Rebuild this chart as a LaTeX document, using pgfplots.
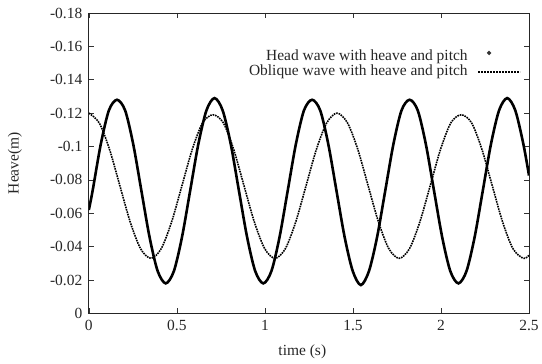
\documentclass[border=0pt]{standalone}
\usepackage{pgfplots}
\pgfplotsset{compat=1.18}
\usepackage{fontspec}
\setmainfont{Liberation Serif}
\begin{document}
\begin{tikzpicture}
\begin{axis}[
  scale only axis, width=441pt, height=301pt,
  xmin=0, xmax=2.5, ymin=-0.18, ymax=0, y dir=reverse,
  xtick={0,0.5,1,1.5,2,2.5},
  xticklabels={0,0.5,1,1.5,2,2.5},
  ytick={-0.18,-0.16,-0.14,-0.12,-0.1,-0.08,-0.06,-0.04,-0.02,0},
  yticklabels={{-0.18},{-0.16},{-0.14},{-0.12},{-0.1},{-0.08},{-0.06},{-0.04},{-0.02},{0}},
  tick align=inside, major tick length=5pt,
  tick style={black!80, line width=0.6pt},
  axis line style={black!85, line width=0.9pt},
  every tick label/.append style={font=\fontsize{15.5}{18}\selectfont, text=black!85},
  xticklabel style={yshift=-3pt},
  yticklabel style={xshift=-3pt},
  xlabel={time (s)}, ylabel={Heave(m)},
  label style={font=\fontsize{15.5}{18}\selectfont, text=black!85},
  xlabel style={at={(axis description cs:0.485,-0.128)}, anchor=center},
  ylabel style={at={(axis description cs:-0.168,0.5)}, anchor=center, rotate=0},
  legend plot pos=right,
  legend cell align=right,
  legend style={at={(axis description cs:0.982,0.876)}, anchor=north east, draw=none, fill=none,
    font=\fontsize{15.5}{17}\selectfont, text=black!85, row sep=2pt, column sep=8pt, inner sep=0pt,
    nodes={inner ysep=0pt, inner xsep=2pt, text height=10pt, text depth=3pt}},
]
\addplot[black, line width=2.6pt, smooth,
  legend image code/.code={\fill[black!80] (0.38cm,0.14cm) circle (0.5pt);}] coordinates {
(0,-0.062) (0.0215,-0.0735) (0.0677,-0.1013) (0.1138,-0.1216) (0.16,-0.128)
(0.2062,-0.1216) (0.2523,-0.1013) (0.2985,-0.0735) (0.3447,-0.0458) (0.3908,-0.0254)
(0.437,-0.018) (0.4832,-0.0254) (0.5293,-0.0458) (0.5755,-0.0735) (0.6217,-0.1013)
(0.6678,-0.1216) (0.714,-0.129) (0.7602,-0.1216) (0.8063,-0.1013) (0.8525,-0.0735)
(0.8987,-0.0458) (0.9448,-0.0254) (0.991,-0.018) (1.0372,-0.0254) (1.0833,-0.0458)
(1.1295,-0.0735) (1.1757,-0.1013) (1.2218,-0.1216) (1.268,-0.128) (1.3142,-0.1216)
(1.3603,-0.1013) (1.4065,-0.0735) (1.4527,-0.0458) (1.4988,-0.0254) (1.545,-0.017)
(1.5912,-0.0254) (1.6373,-0.0458) (1.6835,-0.0735) (1.7297,-0.1013) (1.7758,-0.1216)
(1.822,-0.128) (1.8682,-0.1216) (1.9143,-0.1013) (1.9605,-0.0735) (2.0067,-0.0458)
(2.0528,-0.0254) (2.099,-0.018) (2.1452,-0.0254) (2.1913,-0.0458) (2.2375,-0.0735)
(2.2837,-0.1013) (2.3298,-0.1216) (2.376,-0.129) (2.4222,-0.1216) (2.4683,-0.1013)
(2.5,-0.0826)
};
\addlegendentry{Head wave with heave and pitch}
\addplot[black, line width=1.6pt, dash pattern=on 1.6pt off 0.9pt, smooth,
  legend image code/.code={\draw[black, line width=1.3pt, dash pattern=on 2pt off 1pt] (0pt,0pt) -- (42pt,0pt);}] coordinates {
(0,-0.12) (0.0588,-0.1142) (0.1175,-0.0983) (0.1763,-0.0765) (0.235,-0.0548)
(0.2938,-0.0388) (0.3525,-0.033) (0.4113,-0.0388) (0.47,-0.0548) (0.5288,-0.0765)
(0.5875,-0.0983) (0.6463,-0.1142) (0.705,-0.119) (0.7638,-0.1142) (0.8225,-0.0983)
(0.8813,-0.0765) (0.94,-0.0548) (0.9988,-0.0388) (1.0575,-0.033) (1.1163,-0.0388)
(1.175,-0.0548) (1.2338,-0.0765) (1.2925,-0.0983) (1.3513,-0.1142) (1.41,-0.12)
(1.4688,-0.1142) (1.5275,-0.0983) (1.5863,-0.0765) (1.645,-0.0548) (1.7038,-0.0388)
(1.7625,-0.033) (1.8213,-0.0388) (1.88,-0.0548) (1.9388,-0.0765) (1.9975,-0.0983)
(2.0563,-0.1142) (2.115,-0.119) (2.1738,-0.1142) (2.2325,-0.0983) (2.2913,-0.0765)
(2.35,-0.0548) (2.4088,-0.0388) (2.4675,-0.033) (2.5,-0.0348)
};
\addlegendentry{Oblique wave with heave and pitch}
\end{axis}
\path (current axis.south west) ++(-89pt,-50pt) rectangle ++(542pt,364pt);
\end{tikzpicture}
\end{document}
